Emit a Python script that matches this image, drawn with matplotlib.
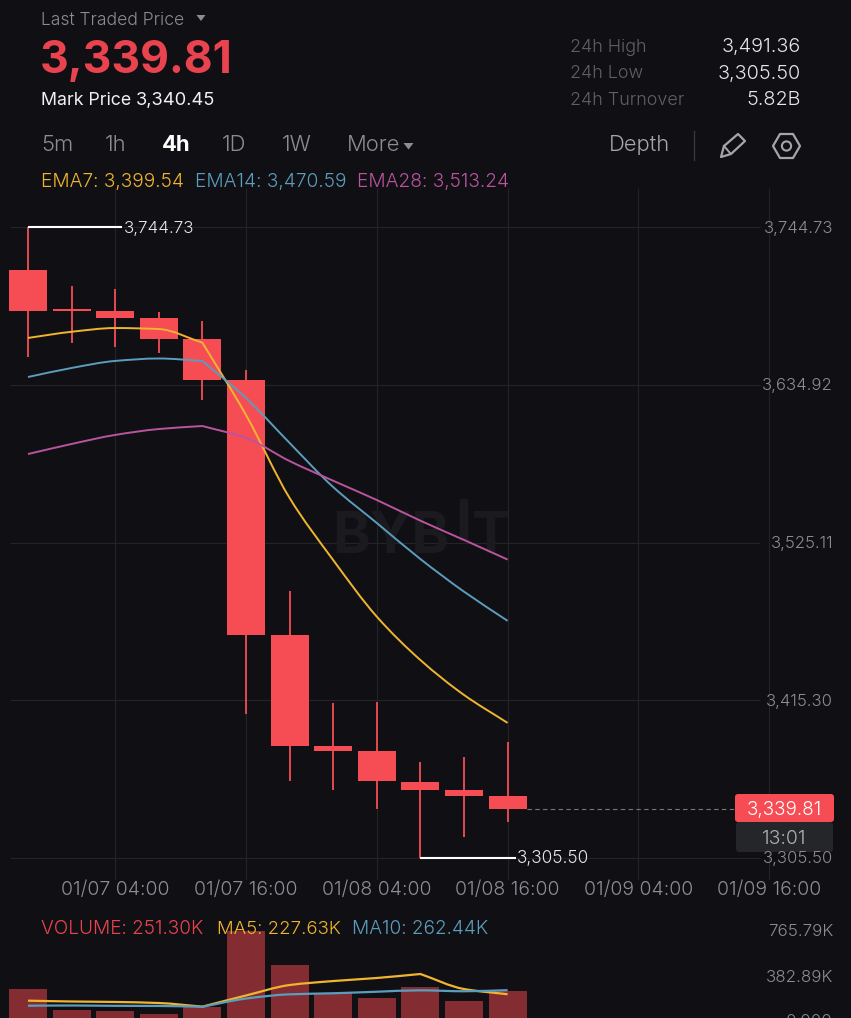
import matplotlib
matplotlib.use("Agg")
import matplotlib.pyplot as plt
from matplotlib.patches import Polygon, Circle, FancyBboxPatch, PathPatch
from matplotlib.path import Path

W, H = 851, 1018
BG = "#101014"
RED = "#f64d55"
RED_TXT = "#ea4350"
VOL_RED = "#832d33"
YELLOW = "#efb52f"
BLUE = "#5b9dbd"
PINK = "#b9549f"
GRID = "#232328"
GREY = "#8c8c92"
DIM = "#5f5f65"
FONT = "Inter"

# candles
opens = [3714.8, 3687.4, 3686.0, 3681.6, 3666.5, 3638.2, 3460.4, 3383.5, 3380.0, 3358.4, 3352.8, 3348.4]
closes = [3686.2, 3686.5, 3681.4, 3666.5, 3638.4, 3460.4, 3383.5, 3380.0, 3359.0, 3352.8, 3348.4, 3339.81]
highs = [3744.73, 3703.7, 3701.8, 3685.3, 3679.1, 3645.2, 3491.36, 3413.4, 3414.0, 3372.0, 3375.6, 3386.2]
lows = [3654.2, 3664.2, 3661.4, 3657.2, 3624.3, 3405.7, 3359.1, 3352.8, 3339.6, 3305.5, 3320.3, 3330.7]

ema7 = [3667.5, 3671.8, 3674.4, 3673.7, 3664.2, 3613.9, 3556.1, 3512.9, 3473.5, 3443.3, 3419.0, 3399.54]
ema14 = [3640.3, 3646.6, 3651.5, 3653.2, 3651.5, 3625.7, 3594.4, 3563.7, 3538.7, 3513.6, 3490.9, 3470.59]
ema28 = [3586.7, 3593.7, 3600.0, 3604.1, 3606.2, 3597.9, 3581.8, 3568.1, 3554.7, 3540.3, 3526.9, 3513.24]

volumes = [270, 94, 85, 60, 119, 765.79, 476, 241, 198, 289, 170, 251.30]
ma5 = [173, 166, 162, 153, 122, 217, 306, 340, 366, 400, 272, 227.63]
ma10 = [130, 132, 129, 128, 121, 191, 227, 236, 249, 261, 253, 262.44]

price_ticks = [3744.73, 3634.92, 3525.11, 3415.30, 3305.50]
price_labels = ["3,744.73", "3,634.92", "3,525.11", "3,415.30", "3,305.50"]
time_idx = [2, 5, 8, 11, 14, 17]
time_labels = ["01/07 04:00", "01/07 16:00", "01/08 04:00", "01/08 16:00", "01/09 04:00", "01/09 16:00"]
vol_labels = ["765.79K", "382.89K", "0.000"]
vol_ticks = [765.79, 382.89, 0]

periods = ["5m", "1h", "4h", "1D", "1W", "More"]
period_x = [41, 105, 162, 222, 282, 347]
stats = [("24h High", "3,491.36"), ("24h Low", "3,305.50"), ("24h Turnover", "5.82B")]

STEP = 43.6       # px between candles
X0 = 28           # px of first candle
PX_PRICE = 1.4366 # px per price unit
PX_VOL = 45 / 382.89


def px_axes(fig, top, bottom):
    """Axes across the whole width, between two pixel rows."""
    ax = fig.add_axes([0, 1 - bottom / H, 1, (bottom - top) / H])
    ax.set_xlim(-X0 / STEP, (W - X0) / STEP)
    ax.axis("off")
    return ax


def smooth_line(ax, values, color, lw, zorder, corners=(4,)):
    """Monotone bezier through the values, sharp at the corner indexes."""
    slopes = [b - a for a, b in zip(values, values[1:])]
    t_in = [slopes[0]]
    t_out = [slopes[0]]
    for i, (s0, s1) in enumerate(zip(slopes, slopes[1:]), start=1):
        if i in corners:
            t_in.append(s0)
            t_out.append(s1)
        else:
            m = 2 * s0 * s1 / (s0 + s1) if s0 * s1 > 0 else 0
            t_in.append(m)
            t_out.append(m)
    t_in.append(slopes[-1])
    t_out.append(slopes[-1])
    verts = [(0, values[0])]
    codes = [Path.MOVETO]
    for i in range(len(values) - 1):
        verts += [(i + 1 / 3, values[i] + t_out[i] / 3),
                  (i + 2 / 3, values[i + 1] - t_in[i + 1] / 3),
                  (i + 1, values[i + 1])]
        codes += [Path.CURVE4] * 3
    ax.add_patch(PathPatch(Path(verts, codes), fill=False, ec=color, lw=lw, zorder=zorder))


def draw_price(ax, ui):
    top, bottom = 188, 880
    ax.set_ylim(3744.73 - (bottom - 227) / PX_PRICE, 3744.73 - (top - 227) / PX_PRICE)
    left = (10 - X0) / STEP
    right = (760 - X0) / STEP
    ax.hlines(price_ticks, left, right, color=GRID, lw=0.8, zorder=1)
    ax.vlines(time_idx, *ax.get_ylim(), color=GRID, lw=0.8, zorder=1)

    # watermark sits under the candles
    for txt, x, y in [("BYB", 332, 538), ("I", 455, 526), ("T", 472, 538)]:
        ax.text(x, y, txt, transform=ui.transData, color="#1a1a1f", fontsize=41, family=FONT,
                fontweight="bold", va="center", ha="left", zorder=2)

    idx = list(range(len(opens)))
    ax.vlines(idx, lows, highs, color=RED, lw=1.3, zorder=3)
    ax.bar(idx, [o - c for o, c in zip(opens, closes)], bottom=closes, width=0.87, color=RED, zorder=3)
    smooth_line(ax, ema7, YELLOW, 1.4, 4)
    smooth_line(ax, ema14, BLUE, 1.4, 4)
    smooth_line(ax, ema28, PINK, 1.4, 4)

    # high / low flags
    ax.hlines(highs[0], 0, 2.15, color="white", lw=1.5, zorder=5)
    ax.hlines(min(lows), 9, 11.2, color="white", lw=1.5, zorder=5)
    ui.text(124, 228, "3,744.73", color="#e8e8ea", fontsize=12.2, family=FONT, va="center", fontweight=300)
    ui.text(517, 859, "3,305.50", color="#e8e8ea", fontsize=12.4, family=FONT, va="center", fontweight=300)

    # last price dashed line
    ax.hlines(closes[-1], 11.45, (735 - X0) / STEP, color="#77777c", lw=0.8, linestyles=(0, (4, 3)), zorder=2)


def draw_volume(ax):
    top, bottom = 905, 1018
    ax.set_ylim((1021 - bottom) / PX_VOL, (1021 - top) / PX_VOL)
    idx = list(range(len(volumes)))
    ax.bar(idx, volumes, width=0.87, color=VOL_RED, zorder=2)
    smooth_line(ax, ma5, YELLOW, 1.6, 3, corners=(4, 9))
    smooth_line(ax, ma10, BLUE, 1.6, 3)


def draw_header(ui):
    def t(x, y, s, color, size, **kw):
        kw.setdefault("va", "center")
        kw.setdefault("family", FONT)
        kw.setdefault("fontweight", 300)
        ui.text(x, y + 1, s, color=color, fontsize=size, **kw)

    t(41, 19, "Last Traded Price", GREY, 12.6)
    ui.add_patch(Polygon([(196.5, 15), (205.5, 15), (201, 21)], color=GREY, lw=0))
    t(40, 60, "3,339.81", RED_TXT, 32, fontweight="bold")
    t(41, 99, "Mark Price", "#f0f0f2", 12.8, fontweight="normal")
    t(136, 99, "3,340.45", "#f0f0f2", 13.2, fontweight="normal")

    for (name, val), y in zip(stats, [46, 72.5, 99]):
        t(570, y, name, DIM, 12.9)
        t(801, y, val, "#e6e6e8", 14.3, ha="right")

    for name, x in zip(periods, period_x):
        active = name == "4h"
        t(x, 144, name, "white" if active else GREY, 15.8, fontweight="bold" if active else 300)
    ui.add_patch(Polygon([(403.5, 143), (413.5, 143), (408.5, 149.5)], color=GREY, lw=0))

    t(609, 144, "Depth", "#a5a5aa", 15.8)
    ui.plot([694, 694], [131, 160], color="#37373c", lw=1.0)

    # pencil icon
    ui.add_patch(Polygon([(721, 157), (724, 146), (738, 134), (745, 141), (731, 154)],
                         fill=False, ec="#a5a5aa", lw=1.6, joinstyle="round"))
    ui.plot([724, 730], [146, 153], color="#a5a5aa", lw=1.4)
    # settings icon
    ui.add_patch(Polygon([(773, 146), (780, 134), (793, 134), (800, 146), (793, 158), (780, 158)],
                         fill=False, ec="#a5a5aa", lw=1.6, joinstyle="round"))
    ui.add_patch(Circle((786.5, 146), 4.6, fill=False, ec="#a5a5aa", lw=1.5))

    for s, x, c in [("EMA7: 3,399.54", 41, YELLOW), ("EMA14: 3,470.59", 195, BLUE), ("EMA28: 3,513.24", 357, PINK)]:
        t(x, 181, s, c, 13.75)

    for s, x, c in [("VOLUME: 251.30K", 41, RED_TXT), ("MA5: 227.63K", 217, YELLOW), ("MA10: 262.44K", 352, BLUE)]:
        t(x, 928, s, c, 13.7 if x != 217 else 13.4)


def draw_axis_labels(ui):
    for lab, tick in zip(price_labels, price_ticks):
        y = 227 + (3744.73 - tick) * PX_PRICE
        ui.text(833, y + 1, lab, color=GREY, fontsize=12, family=FONT, ha="right", va="center", fontweight=300)
    for lab, i in zip(time_labels, time_idx):
        ui.text(X0 + i * STEP, 890, lab, color=GREY, fontsize=14, family=FONT, ha="center", va="center", fontweight=300)
    for lab, tick in zip(vol_labels, vol_ticks):
        y = 1021 - tick * PX_VOL
        ui.text(833, y + 1, lab, color=GREY, fontsize=12.2, family=FONT, ha="right", va="center", fontweight=300)

    # countdown tag above the last axis label
    ui.add_patch(FancyBboxPatch((736, 822), 97, 30, boxstyle="round,pad=0,rounding_size=3", fc="#25262a", ec="none"))
    ui.add_patch(FancyBboxPatch((735, 794), 99, 28, boxstyle="round,pad=0,rounding_size=3", fc=RED, ec="none"))
    ui.text(784.5, 810, "3,339.81", color="white", fontsize=13.6, family=FONT, ha="center", va="center", fontweight=300)
    ui.text(784.5, 839, "13:01", color="#b0b0b4", fontsize=14, family=FONT, ha="center", va="center", fontweight=300)


def main():
    fig = plt.figure(figsize=(W / 100, H / 100), dpi=100, facecolor=BG)
    ui = fig.add_axes([0, 0, 1, 1], zorder=5)
    ui.set_xlim(0, W)
    ui.set_ylim(H, 0)
    ui.axis("off")

    price_ax = px_axes(fig, 188, 880)
    vol_ax = px_axes(fig, 905, 1018)

    draw_price(price_ax, ui)
    draw_volume(vol_ax)
    draw_header(ui)
    draw_axis_labels(ui)

    fig.savefig("out.png", dpi=100, facecolor=BG)


if __name__ == "__main__":
    main()
